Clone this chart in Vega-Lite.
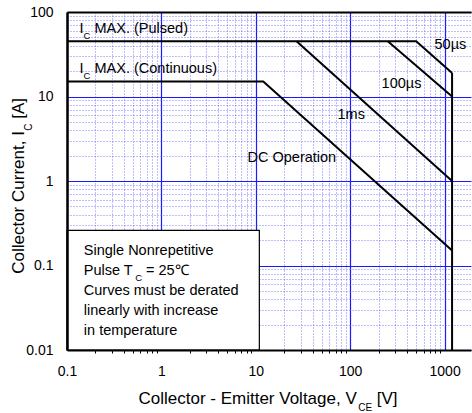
{
  "$schema": "https://vega.github.io/schema/vega-lite/v6.json",
  "width": 404,
  "height": 338,
  "autosize": {"type": "none"},
  "padding": {"left": 67, "right": 1, "top": 12, "bottom": 63},
  "config": {"view": {"stroke": null}, "font": "Liberation Sans", "axis": {"titleFontWeight": "normal"}},
  "datasets": {
    "box": [{"x1": 0.1, "x2": 10.9, "y1": 0.01, "y2": 0.26}],
    "curves": [
      {"series": "50µs", "v": 0.1, "i": 45},
      {"series": "50µs", "v": 500, "i": 45},
      {"series": "50µs", "v": 1200, "i": 19},
      {"series": "100µs", "v": 250, "i": 45},
      {"series": "100µs", "v": 1200, "i": 10},
      {"series": "1ms", "v": 27, "i": 45},
      {"series": "1ms", "v": 1200, "i": 1},
      {"series": "DC", "v": 0.1, "i": 15},
      {"series": "DC", "v": 12, "i": 15},
      {"series": "DC", "v": 1200, "i": 0.15}
    ],
    "labels": [
      {"x": 0.1357, "y": 63.4, "text": "I"},
      {"x": 0.1956, "y": 63.4, "text": "MAX. (Pulsed)"},
      {"x": 0.1357, "y": 21.2, "text": "I"},
      {"x": 0.1956, "y": 21.2, "text": "MAX. (Continuous)"},
      {"x": 782, "y": 40.3, "text": "50µs"},
      {"x": 215, "y": 14.2, "text": "100µs"},
      {"x": 73.4, "y": 6.09, "text": "1ms"},
      {"x": 8.17, "y": 1.887, "text": "DC Operation"},
      {"x": 0.1507, "y": 0.1468, "text": "Single Nonrepetitive"},
      {"x": 0.1507, "y": 0.0852, "text": "Pulse T"},
      {"x": 0.685, "y": 0.0852, "text": "= 25℃"},
      {"x": 0.1507, "y": 0.0503, "text": "Curves must be derated"},
      {"x": 0.1507, "y": 0.02917, "text": "linearly with increase"},
      {"x": 0.1507, "y": 0.01692, "text": "in temperature"}
    ],
    "subs": [
      {"x": 0.1496, "y": 52.4, "text": "C"},
      {"x": 0.1496, "y": 17.5, "text": "C"},
      {"x": 0.528, "y": 0.0704, "text": "C"}
    ],
    "vline": [{"v": 1200, "lo": 0.01, "hi": 19}]
  },
  "resolve": {"axis": {"x": "independent", "y": "independent"}},
  "layer": [
    {
      "data": {"name": "box"},
      "mark": {"type": "rect", "fill": "white", "stroke": "black", "strokeWidth": 1.2},
      "encoding": {
        "x": {
          "field": "x1", "type": "quantitative",
          "scale": {"type": "log", "domain": [0.1, 1904], "nice": false},
          "axis": {
            "orient": "bottom", "values": [0.1, 1, 10, 100, 1000],
            "grid": true, "gridColor": "#1a1aff", "gridWidth": 1.2, "gridOpacity": 1,
            "labels": false, "ticks": false, "domain": false,
            "title": "CE", "titleFont": "Liberation Sans", "titleFontSize": 10, "titleFontWeight": "normal",
            "titleColor": "black", "titleX": 290.7, "titleY": 60, "titleAlign": "left",
            "titleBaseline": "alphabetic", "titleAngle": 0
          }
        },
        "x2": {"field": "x2"},
        "y": {
          "field": "y1", "type": "quantitative",
          "scale": {"type": "log", "domain": [0.01, 100], "nice": false},
          "axis": {
            "orient": "left", "values": [0.01, 0.1, 1, 10, 100],
            "grid": true, "gridColor": "#1a1aff", "gridWidth": 1.2, "gridOpacity": 1,
            "labels": false, "ticks": false, "domain": false,
            "title": "C", "titleFont": "Liberation Sans", "titleFontSize": 10, "titleFontWeight": "normal",
            "titleColor": "black", "titleX": -35.5, "titleY": 118.2, "titleAlign": "left",
            "titleBaseline": "alphabetic", "titleAngle": 270
          }
        },
        "y2": {"field": "y2"}
      }
    },
    {
      "data": {"name": "curves"},
      "mark": {"type": "line", "stroke": "black", "strokeWidth": 2},
      "encoding": {
        "x": {
          "field": "v", "type": "quantitative",
          "scale": {"type": "log", "domain": [0.1, 1904], "nice": false},
          "axis": {
            "orient": "bottom",
            "values": [0.2, 0.3, 0.4, 0.5, 0.6, 0.7, 0.8, 0.9, 2, 3, 4, 5, 6, 7, 8, 9, 20, 30, 40, 50, 60, 70, 80, 90, 200, 300, 400, 500, 600, 700, 800, 900],
            "grid": true, "gridColor": "#4d4dff", "gridDash": [1, 2], "gridWidth": 1, "gridOpacity": 0.75,
            "labels": false, "ticks": true, "tickSize": 3, "tickColor": "black", "tickWidth": 1, "domain": false,
            "title": "[V]", "titleFont": "Liberation Sans", "titleFontSize": 17, "titleFontWeight": "normal",
            "titleColor": "black", "titleX": 309.3, "titleY": 53, "titleAlign": "left",
            "titleBaseline": "alphabetic", "titleAngle": 0
          }
        },
        "y": {
          "field": "i", "type": "quantitative",
          "scale": {"type": "log", "domain": [0.01, 100], "nice": false},
          "axis": {
            "orient": "left",
            "values": [0.02, 0.03, 0.04, 0.05, 0.06, 0.07, 0.08, 0.09, 0.2, 0.3, 0.4, 0.5, 0.6, 0.7, 0.8, 0.9, 2, 3, 4, 5, 6, 7, 8, 9, 20, 30, 40, 50, 60, 70, 80, 90],
            "grid": true, "gridColor": "#4d4dff", "gridDash": [1, 2], "gridWidth": 1, "gridOpacity": 0.75,
            "labels": false, "ticks": false, "domain": false,
            "title": "[A]", "titleFont": "Liberation Sans", "titleFontSize": 17, "titleFontWeight": "normal",
            "titleColor": "black", "titleX": -43.6, "titleY": 106.3, "titleAlign": "left",
            "titleBaseline": "alphabetic", "titleAngle": 270
          }
        },
        "detail": {"field": "series", "type": "nominal"}
      }
    },
    {
      "data": {"name": "labels"},
      "mark": {"type": "text", "align": "left", "baseline": "middle", "fontSize": 14.5, "font": "Liberation Sans", "color": "black"},
      "encoding": {
        "x": {
          "field": "x", "type": "quantitative",
          "scale": {"type": "log", "domain": [0.1, 1904], "nice": false},
          "axis": {
            "orient": "bottom", "values": [0.1, 1, 10, 100, 1000], "format": "~g",
            "grid": false, "ticks": false, "labels": true, "labelFont": "Liberation Sans", "labelFontSize": 14,
            "labelColor": "black", "labelPadding": 14, "labelFlush": false, "labelOverlap": false, "labelBound": false,
            "domain": true, "domainColor": "black", "domainWidth": 2.2, "zindex": 1,
            "title": "Collector - Emitter Voltage, V", "titleFont": "Liberation Sans", "titleFontSize": 17, "titleFontWeight": "normal",
            "titleColor": "black", "titleX": 71, "titleY": 53, "titleAlign": "left",
            "titleBaseline": "alphabetic", "titleAngle": 0
          }
        },
        "y": {
          "field": "y", "type": "quantitative",
          "scale": {"type": "log", "domain": [0.01, 100], "nice": false},
          "axis": {
            "orient": "left", "values": [0.01, 0.1, 1, 10, 100], "format": "~g",
            "grid": false, "ticks": false, "labels": true, "labelFont": "Liberation Sans", "labelFontSize": 14,
            "labelColor": "black", "labelPadding": 14, "labelFlush": false, "labelOverlap": false, "labelBound": false,
            "domain": true, "domainColor": "black", "domainWidth": 2.5, "zindex": 1,
            "title": "Collector Current, I", "titleFont": "Liberation Sans", "titleFontSize": 17, "titleFontWeight": "normal",
            "titleColor": "black", "titleX": -43.6, "titleY": 261.3, "titleAlign": "left",
            "titleBaseline": "alphabetic", "titleAngle": 270
          }
        },
        "text": {"field": "text", "type": "nominal"}
      }
    },
    {
      "data": {"name": "subs"},
      "mark": {"type": "text", "align": "left", "baseline": "middle", "fontSize": 9.5, "font": "Liberation Sans", "color": "black"},
      "encoding": {
        "x": {"field": "x", "type": "quantitative", "scale": {"type": "log", "domain": [0.1, 1904], "nice": false}, "axis": null},
        "y": {"field": "y", "type": "quantitative", "scale": {"type": "log", "domain": [0.01, 100], "nice": false}, "axis": null},
        "text": {"field": "text", "type": "nominal"}
      }
    },
    {
      "data": {"name": "vline"},
      "mark": {"type": "rule", "stroke": "black", "strokeWidth": 2},
      "encoding": {
        "x": {
          "field": "v", "type": "quantitative",
          "scale": {"type": "log", "domain": [0.1, 1904], "nice": false},
          "axis": {"orient": "top", "labels": false, "ticks": false, "grid": false, "domain": true, "domainColor": "black", "domainWidth": 2, "title": null, "zindex": 1}
        },
        "y": {"field": "lo", "type": "quantitative", "scale": {"type": "log", "domain": [0.01, 100], "nice": false}, "axis": null},
        "y2": {"field": "hi"}
      }
    }
  ]
}
